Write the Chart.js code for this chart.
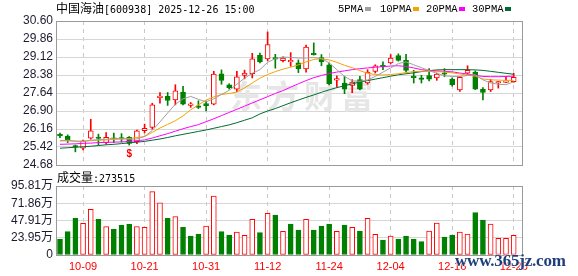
<!DOCTYPE html>
<html lang="zh">
<head>
<meta charset="UTF-8" />
<title>中国海油 日K</title>
<style>
    html, body { margin: 0; padding: 0; background: #fff; }
    #wrap { position: relative; width: 578px; height: 276px; overflow: hidden; }
    canvas { position: absolute; left: 0; }
    #price { top: 0; }
    #vol { top: 170px; }
    .txt { position: absolute; white-space: nowrap; color: #000; line-height: 14px; }
    .cjk { font-family: "Noto Sans CJK SC", sans-serif; font-size: 12px; }
    .mono { font-family: "DejaVu Sans Mono", monospace; font-size: 10px; }
    .leg { font-family: "Liberation Mono", monospace; font-size: 10.5px; }
    .sq { position: absolute; width: 6px; height: 4px; }
    #mark365 {
        position: absolute; left: 455px; top: 251px;
        font-family: "Liberation Serif", serif; font-weight: bold; font-size: 17px;
        color: #1f3f7a; letter-spacing: -0.2px;
        text-shadow: 0 0 2px #fff, 0 0 2px #fff;
    }
</style>
</head>
<body>
<div id="wrap">
    <canvas id="price" width="578" height="178"></canvas>
    <canvas id="vol" width="578" height="106"></canvas>

    <div class="txt" style="left:56px; top:1px;"><span class="cjk">中国海油</span><span class="mono">[600938] 2025-12-26 15:00</span></div>

    <div class="txt leg" style="left:338px; top:2px;">5PMA</div>
    <div class="sq" style="left:365px; top:7px; background:#a0a0a0;"></div>
    <div class="txt leg" style="left:380px; top:2px;">10PMA</div>
    <div class="sq" style="left:413px; top:7px; background:#f5a300;"></div>
    <div class="txt leg" style="left:426px; top:2px;">20PMA</div>
    <div class="sq" style="left:459px; top:7px; background:#ff00ff;"></div>
    <div class="txt leg" style="left:472px; top:2px;">30PMA</div>
    <div class="sq" style="left:505px; top:7px; background:#006b2e;"></div>

    <div class="txt" style="left:57px; top:170px;"><span class="cjk">成交量</span><span class="mono">:273515</span></div>

    <div id="mark365">www.365jz.com</div>
</div>

<script src="https://cdn.jsdelivr.net/npm/chart.js@4.4.0/dist/chart.umd.min.js"></script>
<script>
// trading days
const dates = ['09-26','09-29','09-30','10-09','10-10','10-13','10-14','10-15','10-16','10-17',
    '10-20','10-21','10-22','10-23','10-24','10-27','10-28','10-29','10-30','10-31',
    '11-03','11-04','11-05','11-06','11-07','11-10','11-11','11-12','11-13','11-14',
    '11-17','11-18','11-19','11-20','11-21','11-24','11-25','11-26','11-27','11-28',
    '12-01','12-02','12-03','12-04','12-05','12-08','12-09','12-10','12-11','12-12',
    '12-15','12-16','12-17','12-18','12-19','12-22','12-23','12-24','12-25','12-26'];
const xTickDates = ['10-09','10-21','10-31','11-12','11-24','12-04','12-16','12-26'];

const openP = [25.89,25.87,25.45,25.37,25.78,25.80,25.60,25.76,25.78,25.82,
    25.64,26.09,26.22,27.45,27.50,27.36,27.68,27.13,27.11,27.20,
    27.18,28.43,27.98,27.80,28.36,28.43,29.19,29.04,29.05,28.97,
    28.92,28.88,28.63,29.23,29.10,28.80,28.17,28.05,27.95,28.19,
    28.05,28.53,28.75,28.88,29.18,28.98,28.30,28.22,28.36,28.26,
    28.43,28.21,27.77,28.46,28.50,27.80,27.77,28.05,28.08,28.11];
const closeP = [25.88,25.71,25.42,25.67,26.08,25.77,25.82,25.74,25.75,25.57,
    26.08,26.19,27.15,27.48,27.33,27.73,27.18,27.16,27.05,27.12,
    28.42,28.16,27.85,28.30,28.46,29.04,28.92,29.63,29.03,29.08,
    28.95,28.63,29.53,29.21,28.92,28.02,28.20,27.80,28.09,27.80,
    28.50,28.76,28.72,29.08,28.98,28.57,28.27,28.20,28.21,28.42,
    28.41,27.98,28.28,28.57,27.80,27.66,28.11,28.08,28.12,28.28];
const highP = [25.99,25.92,25.50,25.70,26.56,25.95,26.01,25.99,25.97,25.85,
    26.12,26.36,27.22,27.66,27.66,27.98,27.91,27.25,27.32,27.32,
    28.53,28.59,28.02,28.53,28.58,29.27,29.28,30.15,29.23,29.13,
    29.30,29.00,29.61,29.70,29.22,28.86,28.35,28.33,28.19,28.33,
    28.60,28.80,28.92,29.22,29.25,29.23,28.57,28.37,28.64,28.46,
    28.64,28.26,28.32,28.76,28.55,27.86,28.20,28.11,28.30,28.45];
const lowP = [25.80,25.60,25.22,25.30,25.74,25.50,25.54,25.60,25.62,25.50,
    25.56,26.00,26.15,27.22,27.13,27.15,27.15,27.05,27.00,26.90,
    27.15,28.00,27.80,27.69,28.22,28.26,28.88,28.97,28.66,28.92,
    28.74,28.48,28.50,29.20,28.76,27.97,27.88,27.61,27.65,27.77,
    28.00,28.46,28.60,28.84,28.95,28.50,28.05,28.05,28.14,28.16,
    28.31,27.92,27.70,28.40,27.78,27.36,27.70,27.84,28.06,28.08];

const ma5 = [25.68,25.70,25.66,25.64,25.70,25.72,25.74,25.78,25.76,25.74,
    25.75,25.85,26.10,26.45,26.82,27.18,27.40,27.50,27.38,27.28,
    27.40,27.58,27.75,28.00,28.25,28.45,28.60,28.90,29.05,29.12,
    29.10,29.08,29.08,29.10,29.05,28.88,28.60,28.32,28.14,28.12,
    28.18,28.32,28.50,28.67,28.85,28.92,28.80,28.68,28.56,28.45,
    28.35,28.32,28.32,28.36,28.39,28.18,28.05,28.00,27.98,28.10];
const ma10 = [25.67,25.67,25.66,25.66,25.68,25.70,25.71,25.73,25.75,25.77,
    25.81,25.85,26.02,26.20,26.35,26.50,26.70,26.95,27.15,27.35,
    27.48,27.58,27.62,27.68,27.85,28.05,28.25,28.40,28.52,28.62,
    28.70,28.80,28.92,29.02,29.05,29.00,28.90,28.78,28.68,28.56,
    28.45,28.40,28.38,28.40,28.43,28.48,28.52,28.53,28.53,28.52,
    28.50,28.47,28.42,28.38,28.33,28.22,28.18,28.17,28.16,28.16];
const ma20 = [25.53,25.54,25.55,25.57,25.58,25.60,25.61,25.62,25.63,25.65,
    25.68,25.71,25.79,25.88,25.97,26.07,26.17,26.26,26.34,26.46,
    26.58,26.71,26.84,26.97,27.10,27.23,27.36,27.49,27.62,27.74,
    27.88,28.02,28.15,28.27,28.36,28.44,28.50,28.55,28.60,28.64,
    28.67,28.70,28.72,28.75,28.76,28.73,28.67,28.60,28.57,28.55,
    28.53,28.51,28.46,28.42,28.37,28.32,28.31,28.31,28.32,28.33];
const ma30 = [25.37,25.39,25.41,25.43,25.45,25.48,25.51,25.53,25.56,25.59,
    25.62,25.65,25.70,25.75,25.81,25.88,25.94,26.00,26.06,26.12,
    26.19,26.26,26.33,26.42,26.52,26.62,26.78,26.90,27.00,27.12,
    27.24,27.35,27.46,27.56,27.67,27.77,27.86,27.94,28.02,28.09,
    28.15,28.21,28.27,28.33,28.39,28.43,28.47,28.52,28.56,28.59,
    28.60,28.60,28.60,28.60,28.59,28.57,28.53,28.49,28.45,28.41];

// volume in 万 shares, and bar colour as drawn (1 = red)
const volume = [22.2,32.4,51.0,44.0,63.4,49.6,39.3,35.7,41.2,42.6,
    39.3,38.4,87.9,72.6,51.0,53.2,38.4,26.4,29.2,40.3,
    81.9,32.4,27.8,31.9,27.3,49.6,31.0,57.9,55.5,32.9,
    43.0,34.7,49.6,34.7,40.3,43.0,32.9,41.7,38.4,33.3,
    51.0,28.7,20.8,26.4,22.2,26.4,22.2,18.5,33.3,44.4,
    25.0,27.8,31.9,29.2,58.8,48.6,43.0,23.1,23.1,27.35];
const volUp = [0,0,0,1,1,0,1,0,0,0, 1,1,1,1,0,1,0,0,0,1,
    1,0,0,1,1,1,0,1,0,1, 0,0,1,0,0,0,1,0,1,0,
    1,1,0,1,0,0,0,0,1,1, 0,0,1,1,0,0,1,1,1,1];

const priceTicks = [24.68,25.42,26.16,26.90,27.64,28.38,29.12,29.86,30.60];
const volTicks = [0,23.95,47.91,71.86,95.81];

const RED = '#ff0000';
const GREEN = '#008000';
const X_MIN = -0.52, X_MAX = 60.08;
const AXIS_FONT = { family: 'Liberation Sans, "Noto Sans CJK SC", sans-serif', size: 12 };
const AXIS_COLOR = '#1c1c30';

const idx = dates.map((d, i) => i);
const up = idx.map(i => closeP[i] >= openP[i]);
const xTickIdx = xTickDates.map(d => dates.indexOf(d));

const framePlugin = {
    id: 'frame',
    beforeDatasetsDraw(chart, args, opts) {
        const { ctx, chartArea: a } = chart;
        ctx.save();
        if (opts.watermark) {
            ctx.fillStyle = '#e6e6e6';
            ctx.font = 'bold 32px "Noto Sans CJK SC"';
            ctx.textBaseline = 'middle';
            const chars = opts.watermark.split('');
            chars.forEach((c, k) => ctx.fillText(c, a.left + 174 + k * 37, a.top + 75));
        }
        ctx.strokeStyle = '#9a9a9a';
        ctx.lineWidth = 1;
        ctx.strokeRect(Math.round(a.left) + 0.5, Math.round(a.top) + 0.5,
            Math.round(a.right) - Math.round(a.left), Math.round(a.bottom) - Math.round(a.top));
        ctx.restore();
    },
    afterDatasetsDraw(chart, args, opts) {
        if (opts.markIndex == null) return;
        const { ctx, scales } = chart;
        ctx.save();
        ctx.fillStyle = RED;
        ctx.font = 'bold 10px Liberation Sans';
        ctx.textAlign = 'center';
        ctx.textBaseline = 'top';
        ctx.fillText('$', scales.x.getPixelForValue(opts.markIndex),
            scales.y.getPixelForValue(lowP[opts.markIndex]) + 4);
        ctx.restore();
    }
};

function xScale(showLabels) {
    return {
        type: 'linear',
        min: X_MIN,
        max: X_MAX,
        offset: false,
        afterBuildTicks: s => { s.ticks = xTickIdx.map(v => ({ value: v })); },
        afterFit: s => { s.height = showLabels ? 21 : 0; },
        grid: { color: '#c8c8c8', drawTicks: false, offset: false },
        border: { display: false, dash: [4, 4] },
        ticks: {
            display: showLabels,
            autoSkip: false,
            maxRotation: 0,
            padding: 5,
            color: RED,
            font: { family: 'Liberation Sans', size: 11 },
            callback: v => dates[v]
        }
    };
}

function yScale(ticks, fmt) {
    return {
        min: ticks[0],
        max: ticks[ticks.length - 1],
        afterBuildTicks: s => { s.ticks = ticks.map(v => ({ value: v })); },
        afterFit: s => { s.width = 56; },
        grid: { color: '#d6d6d6', drawTicks: false },
        border: { color: '#9a9a9a' },
        ticks: { autoSkip: false, padding: 3, color: AXIS_COLOR, font: AXIS_FONT, callback: fmt }
    };
}

function line(data, color) {
    return {
        type: 'line',
        data: idx.map(i => ({ x: i, y: data[i] })),
        borderColor: color,
        borderWidth: 1,
        pointRadius: 0,
        tension: 0,
        order: 1
    };
}

new Chart(document.getElementById('price'), {
    data: {
        datasets: [
            line(ma5, '#a0a0a0'),
            line(ma10, '#f5a300'),
            line(ma20, '#ff00ff'),
            line(ma30, '#006b2e'),
            {
                type: 'bar',
                data: idx.map(i => ({ x: i, y: [openP[i], closeP[i]] })),
                backgroundColor: idx.map(i => up[i] ? '#ffffff' : GREEN),
                borderColor: idx.map(i => up[i] ? RED : GREEN),
                borderWidth: 1,
                borderSkipped: false,
                barThickness: 5,
                minBarLength: 1.5,
                grouped: false,
                order: 2
            },
            {
                type: 'bar',
                data: idx.map(i => ({ x: i, y: [lowP[i], highP[i]] })),
                backgroundColor: idx.map(i => up[i] ? RED : GREEN),
                borderWidth: 0,
                barThickness: 1,
                grouped: false,
                order: 3
            }
        ]
    },
    options: {
        responsive: false,
        animation: false,
        layout: { padding: { left: 0, right: 56, top: 21, bottom: 13 } },
        plugins: {
            legend: { display: false },
            tooltip: { enabled: false },
            frame: { watermark: '东方财富', markIndex: 9 }
        },
        scales: {
            x: xScale(false),
            y: yScale(priceTicks, v => v.toFixed(2))
        }
    },
    plugins: [framePlugin]
});

new Chart(document.getElementById('vol'), {
    type: 'bar',
    data: {
        datasets: [{
            data: idx.map(i => ({ x: i, y: volume[i] })),
            backgroundColor: idx.map(i => volUp[i] ? '#ffffff' : GREEN),
            borderColor: idx.map(i => volUp[i] ? RED : GREEN),
            borderWidth: 1,
            borderSkipped: false,
            barThickness: 5,
            grouped: false
        }]
    },
    options: {
        responsive: false,
        animation: false,
        layout: { padding: { left: 0, right: 56, top: 16, bottom: 0 } },
        plugins: {
            legend: { display: false },
            tooltip: { enabled: false },
            frame: {}
        },
        scales: {
            x: xScale(true),
            y: yScale(volTicks, v => v === 0 ? '0' : v.toFixed(2) + '万')
        }
    },
    plugins: [framePlugin]
});
</script>
</body>
</html>
